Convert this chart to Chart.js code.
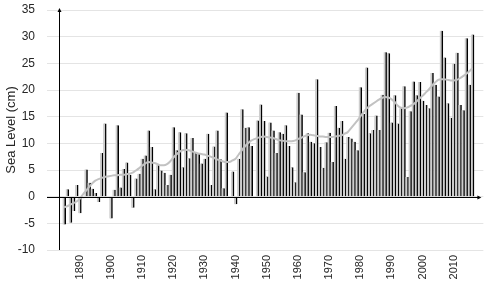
<!DOCTYPE html>
<html><head><meta charset="utf-8">
<script src="https://cdn.jsdelivr.net/npm/chart.js@4/dist/chart.umd.min.js"></script>
<style>html,body{margin:0;padding:0;background:#fff;}canvas{display:block;}</style>
</head><body>
<canvas id="c" width="500" height="284"></canvas>
<script>
// Categories: years 1880..2019
const firstYear = 1880, lastYear = 2019;
const years = [];
for (let y = firstYear; y <= lastYear; y++) years.push(y);
const tickYears = [1890, 1900, 1910, 1920, 1930, 1940, 1950, 1960, 1970, 1980, 1990, 2000, 2010];
const yTicks = [-10, -5, 0, 5, 10, 15, 20, 25, 30, 35];

// Annual sea level (cm), 1880..2019
const seaLevel = [
  null, null, null, null, null, -5.2, 1.4, -4.9, -2.7, 2.2,
  -3.1, -0.3, 5.1, 2.6, 1.5, 0.7, -1.0, 8.2, 13.7, null,
  -4.1, 1.3, 13.4, 1.7, 5.2, 6.4, 4.1, -2.1, 3.4, 4.3,
  7.1, 7.7, 12.4, 9.3, 1.4, 5.9, 4.9, 4.5, 2.2, 4.1,
  13.0, 8.7, 12.1, 5.5, 11.9, 7.2, 11.0, 8.3, 8.1, 6.2,
  7.1, 11.8, 2.2, 9.4, 12.4, 7.0, 1.6, 15.8, null, 4.7,
  -1.4, 7.1, 16.4, 12.9, 13.0, 9.5, null, 14.3, 17.3, 14.2,
  3.8, 13.9, 12.4, 8.2, 12.1, 11.8, 13.4, 9.5, 5.5, 2.7,
  19.5, 15.4, 4.6, 11.9, 10.3, 10.0, 22.0, 9.3, 5.4, 10.2,
  12.0, 6.5, 17.0, 12.9, 14.2, 7.1, 11.2, 10.9, 10.3, 8.7,
  20.5, 15.5, 24.2, 11.9, 12.5, 15.2, 12.5, 19.1, 27.1, 26.9,
  13.9, 19.0, 13.7, 16.6, 20.7, 3.7, 16.0, 21.6, 19.0, 21.5,
  18.0, 17.2, 16.6, 23.2, 21.0, 18.8, 31.1, 26.1, 17.5, 14.8,
  24.9, 27.0, 17.2, 16.2, 29.7, 21.0, 30.4, null, null, null
];

// Smoothed trend (cm), 1880..2019
const trend = [
  null, null, null, null, null, -2.0, -1.8, -1.5, -1.2, -0.9,
  -0.4, 0.4, 1.1, 1.8, 2.5, 3.0, 3.3, 3.5, 3.7, 3.8,
  3.9, 4.0, 4.0, 4.1, 4.1, 4.2, 4.3, 4.5, 4.9, 5.3,
  5.8, 6.2, 6.5, 6.4, 6.3, 6.1, 5.9, 5.9, 6.1, 6.6,
  7.3, 7.9, 8.4, 8.7, 8.8, 8.7, 8.5, 8.3, 8.1, 8.0,
  7.9, 7.7, 7.5, 7.3, 7.0, 6.8, 6.6, 6.5, 6.5, 6.8,
  7.1, 7.9, 8.7, 9.4, 10.0, 10.5, 10.8, 11.0, 11.2, 11.3,
  11.2, 11.1, 11.0, 10.8, 10.6, 10.5, 10.4, 10.4, 10.4, 10.5,
  10.8, 11.0, 11.3, 11.5, 11.6, 11.5, 11.4, 11.3, 11.3, 11.2,
  11.2, 11.2, 11.3, 11.4, 11.5, 11.8, 12.1, 12.8, 13.5, 14.2,
  15.0, 15.8, 16.5, 17.0, 17.4, 17.8, 18.2, 18.5, 18.7, 18.6,
  18.3, 17.8, 17.1, 16.7, 16.6, 16.7, 17.0, 17.3, 17.8, 18.4,
  18.9, 19.5, 20.1, 20.8, 21.4, 21.9, 22.0, 22.0, 21.9, 21.8,
  21.8, 21.9, 22.2, 22.6, 23.0, 23.5, 24.1, null, null, null
];

const FONT = '"Liberation Sans", Arial, sans-serif';
const TXT = '#262626';

const axisArrows = {
  id: 'axisArrows',
  afterDatasetsDraw(chart) {
    const { ctx, chartArea: a, scales: { x, y } } = chart;
    const y0 = y.getPixelForValue(0);
    const xAxisPos = (x.getPixelForValue(3) + x.getPixelForValue(4)) / 2;
    const yTop = y.getPixelForValue(35) - 1;
    const yBot = y.getPixelForValue(-10);
    const xEnd = a.right - 3;
    ctx.save();
    ctx.strokeStyle = '#000';
    ctx.fillStyle = '#000';
    ctx.lineWidth = 1;
    ctx.beginPath();
    ctx.moveTo(a.left, Math.round(y0) + 0.5);
    ctx.lineTo(xEnd - 2, Math.round(y0) + 0.5);
    ctx.stroke();
    ctx.beginPath();
    ctx.moveTo(xEnd + 1, Math.round(y0) + 0.5);
    ctx.lineTo(xEnd - 3, Math.round(y0) - 1.5);
    ctx.lineTo(xEnd - 3, Math.round(y0) + 2.5);
    ctx.closePath();
    ctx.fill();
    const xv = Math.round(xAxisPos) + 0.5;
    ctx.beginPath();
    ctx.moveTo(xv, yBot);
    ctx.lineTo(xv, yTop + 2);
    ctx.stroke();
    ctx.beginPath();
    ctx.moveTo(xv, yTop - 1);
    ctx.lineTo(xv - 2, yTop + 3);
    ctx.lineTo(xv + 2, yTop + 3);
    ctx.closePath();
    ctx.fill();
    ctx.restore();
  }
};

new Chart(document.getElementById('c'), {
  data: {
    labels: years,
    datasets: [
      {
        type: 'line',
        data: trend,
        borderColor: '#c2c2c2',
        borderWidth: 2,
        pointRadius: 0,
        tension: 0.4,
        cubicInterpolationMode: 'monotone',
        fill: false,
        order: 0
      },
      {
        type: 'bar',
        data: seaLevel,
        backgroundColor: '#cdcdcd',
        borderColor: '#000000',
        borderWidth: { top: 0, right: 1.5, bottom: 0, left: 0 },
        borderSkipped: false,
        barPercentage: 1,
        categoryPercentage: 1,
        order: 1
      }
    ]
  },
  options: {
    responsive: false,
    animation: false,
    layout: { padding: { top: 10, right: 4, left: 0, bottom: 0 } },
    plugins: { legend: { display: false }, tooltip: { enabled: false } },
    scales: {
      x: {
        type: 'category',
        grid: { display: false, drawTicks: false },
        border: { display: false },
        ticks: {
          autoSkip: false, minRotation: 90, maxRotation: 90, padding: 5,
          color: TXT, font: { family: FONT, size: 11 },
          callback: function (v, i) { return tickYears.includes(years[i]) ? String(years[i]) : ''; }
        },
        afterFit(s) { s.height = 34; }
      },
      y: {
        min: -10, max: 35,
        afterBuildTicks(s) { s.ticks = yTicks.map(v => ({ value: v })); },
        grid: { color: '#e4e4e4', drawTicks: false, lineWidth: 1 },
        border: { display: false },
        ticks: { padding: 12, color: TXT, font: { family: FONT, size: 12 } },
        title: { display: true, text: 'Sea Level (cm)', color: TXT, font: { family: FONT, size: 13 }, padding: { top: 4, bottom: 0 } },
        afterFit(s) { s.width = 47; s.paddingTop = 0; s.paddingBottom = 0; }
      }
    }
  },
  plugins: [axisArrows]
});
</script>
</body></html>
